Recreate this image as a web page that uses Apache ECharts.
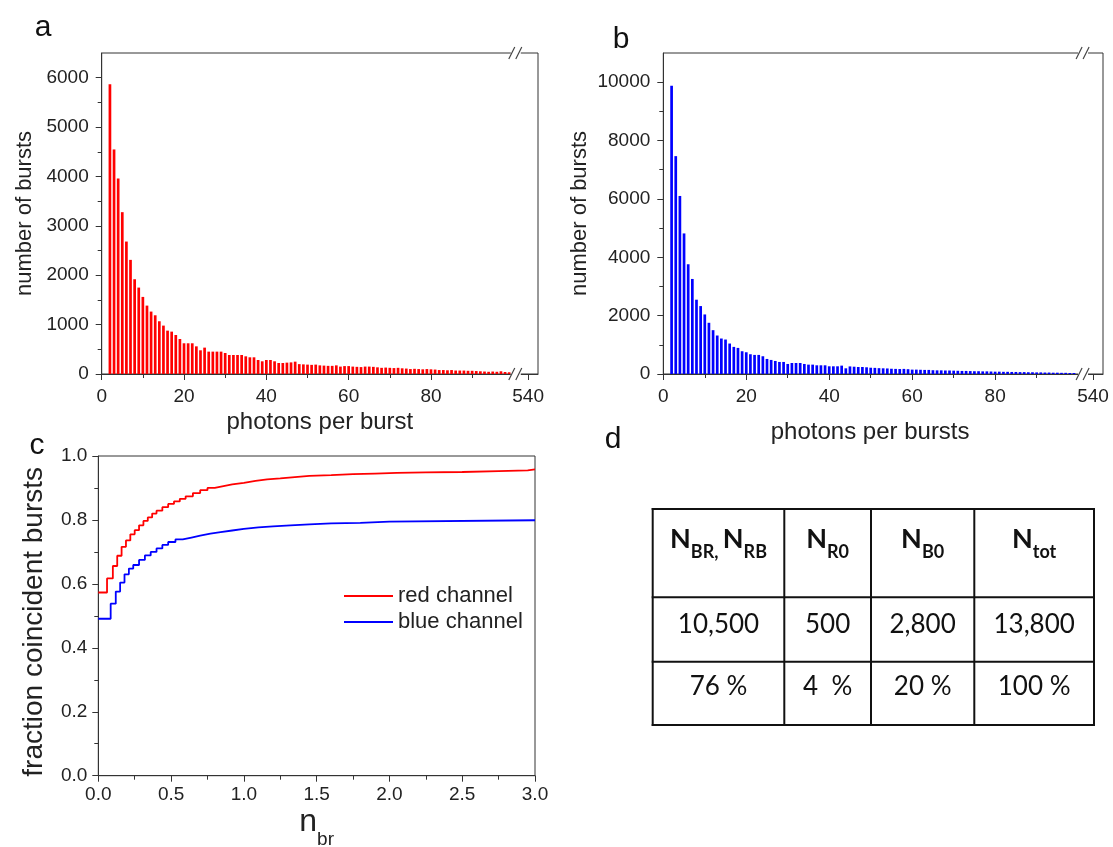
<!DOCTYPE html>
<html><head><meta charset="utf-8">
<script src="https://cdn.jsdelivr.net/npm/echarts@6/dist/echarts.min.js"></script>
<style>html,body{margin:0;padding:0;background:#fff}#c{width:1113px;height:847px}</style>
</head><body><div id="c"></div>
<script>
// ---------- data ----------
// photon-count bins 2..99 (bin centre = photons per burst)
const photonBins = [];
for (let n = 2; n <= 99; n++) photonBins.push(n);
const redCounts = [
 5865,4547,3959,3277,2682,2311,1919,1750,1561,1385,
 1264,1189,1068,980,878,858,790,709,622,622,
 622,560,480,534,453,453,453,453,425,385,
 385,385,385,358,338,338,284,257,284,284,
 257,223,223,230,235,250,200,195,190,185,
 190,175,170,165,165,175,150,160,160,150,
 145,140,150,150,145,135,125,130,125,120,
 125,115,110,100,105,100,95,100,95,90,
 80,80,75,80,70,70,70,65,65,60,
 55,50,45,50,45,55,40,35];
const blueCounts = [
 9874,7466,6101,4817,3761,3257,2546,2328,2041,1755,
 1502,1319,1216,1181,1044,929,894,780,745,677,
 654,654,608,516,482,447,413,413,344,378,
 378,378,344,321,321,298,298,298,264,264,
 264,287,195,260,250,240,240,230,215,210,
 200,195,190,180,175,170,175,165,150,150,
 145,140,140,130,125,125,120,120,115,110,
 105,105,100,95,95,90,90,85,80,80,
 75,75,70,70,65,65,60,60,55,55,
 50,50,45,45,40,40,35,35];
const histXTicks = [0, 20, 40, 60, 80];
const histXMinor = [10, 30, 50, 70, 90];
const breakTickPos = 103.6;      // axis position standing for 540 after the break
const breakTickLabel = '540';
const redYTicks = [0,1000,2000,3000,4000,5000,6000];
const redYMinor = [500,1500,2500,3500,4500,5500];
const blueYTicks = [0,2000,4000,6000,8000,10000];
const blueYMinor = [1000,3000,5000,7000,9000];

const redNbr = [0,0.06,0.10,0.13,0.16,0.19,0.22,0.25,0.28,0.31,0.34,0.37,0.40,0.44,0.48,0.52,0.56,0.60,0.65,0.70,0.75,0.80,0.86,0.92,1.0,1.08,1.16,1.25,1.35,1.45,1.6,1.75,1.9,2.05,2.25,2.5,2.75,2.95,3.0];
const redFrac = [0.573,0.617,0.656,0.688,0.716,0.736,0.755,0.768,0.783,0.797,0.808,0.820,0.829,0.840,0.850,0.858,0.866,0.874,0.884,0.893,0.900,0.906,0.911,0.916,0.922,0.927,0.930,0.934,0.938,0.940,0.943,0.945,0.947,0.949,0.950,0.953,0.955,0.958,0.958];
const blueNbr = [0,0.085,0.12,0.15,0.18,0.21,0.24,0.28,0.32,0.36,0.40,0.44,0.48,0.53,0.58,0.64,0.70,0.77,0.84,0.92,1.0,1.1,1.2,1.32,1.45,1.6,1.8,2.0,3.0];
const blueFrac = [0.491,0.538,0.576,0.604,0.630,0.648,0.659,0.675,0.689,0.700,0.711,0.722,0.731,0.739,0.745,0.751,0.757,0.762,0.767,0.772,0.777,0.780,0.783,0.786,0.789,0.791,0.795,0.799,0.799];

const tableHeader = [['BR, ','RB'], ['R0'], ['B0'], ['tot']];
const tableCounts = ['10,500', '500', '2,800', '13,800'];
const tablePercents = ['76 %', '4  %', '20 %', '100 %'];

// ---------- chart ----------
const FONT = 'Liberation Sans, Arial, sans-serif';
const AX = '#333';
const chart = echarts.init(document.getElementById('c'), null, {renderer: 'canvas'});

function histX(gridIndex) {
  return [
    {type:'value', gridIndex, min:0, max:106, position:'bottom',
     axisLine:{show:true, lineStyle:{color:AX, width:1}},
     axisTick:{show:true, length:6, customValues: histXTicks.concat([breakTickPos]), lineStyle:{color:AX}},
     axisLabel:{show:true, margin:13, fontFamily:FONT, fontSize:19, color:'#222',
       customValues: histXTicks.concat([breakTickPos]),
       formatter: v => (v > 100 ? breakTickLabel : String(v))},
     splitLine:{show:false}},
    {type:'value', gridIndex, min:0, max:106, position:'bottom',
     axisLine:{show:false}, axisLabel:{show:false}, splitLine:{show:false},
     axisTick:{show:true, length:4, customValues: histXMinor, lineStyle:{color:AX}}}
  ];
}
function histY(gridIndex, max, ticks, minor, name, gap) {
  return [
    {type:'value', gridIndex, min:0, max, position:'left',
     name, nameLocation:'middle', nameGap:gap,
     nameTextStyle:{fontFamily:FONT, fontSize:22, color:'#222'},
     axisLine:{show:true, lineStyle:{color:AX}},
     axisTick:{show:true, length:6, customValues:ticks, lineStyle:{color:AX}},
     axisLabel:{show:true, margin:13, fontFamily:FONT, fontSize:19, color:'#222', customValues:ticks,
       formatter: v => String(v)},
     splitLine:{show:false}},
    {type:'value', gridIndex, min:0, max, position:'left',
     axisLine:{show:false}, axisLabel:{show:false}, splitLine:{show:false},
     axisTick:{show:true, length:4, customValues:minor, lineStyle:{color:AX}}}
  ];
}

const xs = histX(0).concat(histX(1));
xs[0].name = 'photons per burst';
xs[2].name = 'photons per bursts';
[xs[0], xs[2]].forEach((a, i) => {
  a.nameLocation = 'middle';
  a.nameGap = i === 0 ? 36 : 46;
  a.nameTextStyle = {fontFamily:FONT, fontSize:24, color:'#222', padding: i === 0 ? 0 : [0, 26, 0, 0]};
});
xs.push({type:'value', gridIndex:2, min:0, max:3, interval:0.5,
  name:'{n|n}{s|br}', nameLocation:'middle', nameGap:30,
  nameTextStyle:{rich:{n:{fontFamily:FONT, fontSize:32, color:'#222', verticalAlign:'top', lineHeight:34},
                       s:{fontFamily:FONT, fontSize:19, color:'#222', verticalAlign:'top', lineHeight:19, padding:[25,0,0,0]}}},
  axisLine:{show:true, lineStyle:{color:AX}},
  axisTick:{show:true, length:6, lineStyle:{color:AX}},
  minorTick:{show:true, splitNumber:2, length:4, lineStyle:{color:AX}},
  axisLabel:{margin:10, fontFamily:FONT, fontSize:19, color:'#222', formatter: v => v.toFixed(1)},
  splitLine:{show:false}});

const ys = histY(0, 6500, redYTicks, redYMinor, 'number of bursts', 66)
  .concat(histY(1, 11000, blueYTicks, blueYMinor, 'number of bursts', 72));
ys.push({type:'value', gridIndex:2, min:0, max:1, interval:0.2,
  name:'fraction coincident bursts', nameLocation:'middle', nameGap:50,
  nameTextStyle:{fontFamily:FONT, fontSize:28, color:'#222', padding:[0, 12, 0, 0]},
  axisLine:{show:true, lineStyle:{color:AX}},
  axisTick:{show:true, length:6, lineStyle:{color:AX}},
  minorTick:{show:true, splitNumber:2, length:4, lineStyle:{color:AX}},
  axisLabel:{margin:11, fontFamily:FONT, fontSize:19, color:'#222', formatter: v => v.toFixed(1)},
  splitLine:{show:false}});

const gridBase = {show:true, borderColor:AX, borderWidth:1, containLabel:false, outerBoundsMode:'none'};
const option = {
  animation:false,
  backgroundColor:'#fff',
  grid:[
    Object.assign({left:101.7, top:53, width:436.3, height:321}, gridBase),
    Object.assign({left:663.3, top:53, width:439.7, height:321}, gridBase),
    Object.assign({left:98.3, top:456, width:436.7, height:319.7}, gridBase)
  ],
  xAxis: xs,
  yAxis: ys,
  legend:{
    left:339, top:580, orient:'vertical', itemGap:4,
    itemWidth:49, itemHeight:2, icon:'rect',
    textStyle:{fontFamily:FONT, fontSize:22, color:'#222'},
    data:['red channel','blue channel']
  },
  series:[
    {type:'bar', xAxisIndex:0, yAxisIndex:0, barWidth:2.7, itemStyle:{color:'#ff0000'},
     data: photonBins.map((n,i) => [n, redCounts[i]])},
    {type:'bar', xAxisIndex:2, yAxisIndex:2, barWidth:2.7, itemStyle:{color:'#0000ff'},
     data: photonBins.map((n,i) => [n, blueCounts[i]])},
    {type:'line', name:'red channel', xAxisIndex:4, yAxisIndex:4, step:'end', showSymbol:false, symbol:'none',
     lineStyle:{color:'#ff0000', width:1.8}, itemStyle:{color:'#ff0000'},
     data: redNbr.map((x,i) => [x, redFrac[i]])},
    {type:'line', name:'blue channel', xAxisIndex:4, yAxisIndex:4, step:'end', showSymbol:false, symbol:'none',
     lineStyle:{color:'#0000ff', width:1.8}, itemStyle:{color:'#0000ff'},
     data: blueNbr.map((x,i) => [x, blueFrac[i]])}
  ]
};
chart.setOption(option);

// ---------- decorations: axis-break marks, panel letters, table ----------
const g = [];
function breakMark(cx, cy) {
  g.push({type:'rect', shape:{x:cx-5, y:cy-3, width:10, height:6}, style:{fill:'#fff'}, z:50});
  [-4, 3].forEach(dx => g.push({type:'line', shape:{x1:cx+dx-3, y1:cy+6, x2:cx+dx+3, y2:cy-6},
    style:{stroke:'#444', lineWidth:1.2}, z:51}));
}
[[0, 100.6], [1, 101.2]].forEach(([gi, v]) => {
  const pTop = chart.convertToPixel({xAxisIndex: gi*2, yAxisIndex: gi*2}, [v, gi === 0 ? 6500 : 11000]);
  const pBot = chart.convertToPixel({xAxisIndex: gi*2, yAxisIndex: gi*2}, [v, 0]);
  breakMark(pTop[0], pTop[1]);
  breakMark(pBot[0], pBot[1]);
});

[['a', 43, 28], ['b', 621, 40], ['c', 37, 446], ['d', 613, 440]].forEach(([t, x, y]) =>
  g.push({type:'text', x, y, style:{text:t, fontFamily:FONT, fontSize:30, fill:'#111', align:'center', verticalAlign:'middle'}}));

// table d
const TF = 'Lato, Open Sans, sans-serif';
const colEdges = [652.7, 784.3, 871, 974.3, 1094];
const rowEdges = [509, 597.3, 661.7, 725];
colEdges.forEach(x => g.push({type:'line', shape:{x1:x, y1:rowEdges[0]-1, x2:x, y2:rowEdges[3]+1}, style:{stroke:'#111', lineWidth:2}}));
rowEdges.forEach(y => g.push({type:'line', shape:{x1:colEdges[0]-1, y1:y, x2:colEdges[4]+1, y2:y}, style:{stroke:'#111', lineWidth:2}}));
const rich = {
  N:{fontFamily:TF, fontSize:27, fontWeight:'bold', fill:'#111', color:'#111', verticalAlign:'top', lineHeight:30},
  s:{fontFamily:TF, fontSize:18, fontWeight:'bold', fill:'#111', color:'#111', verticalAlign:'top', lineHeight:18, padding:[17,0,0,0]}
};
tableHeader.forEach((parts, i) => {
  const cx = (colEdges[i] + colEdges[i+1]) / 2;
  let txt = '{N|N}{s|' + parts[0] + '}';
  if (parts.length > 1) txt += '{N|N}{s|' + parts[1] + '}';
  g.push({type:'text', x:cx, y:541, style:{text:txt, rich, align:'center', verticalAlign:'middle'}});
  g.push({type:'text', x:cx, y:625, style:{text:tableCounts[i], fontFamily:TF, fontSize:26, fill:'#111', align:'center', verticalAlign:'middle'}});
  g.push({type:'text', x:cx, y:687, style:{text:tablePercents[i], fontFamily:TF, fontSize:26, fill:'#111', align:'center', verticalAlign:'middle'}});
});

chart.setOption({graphic: g});
</script>
</body></html>
